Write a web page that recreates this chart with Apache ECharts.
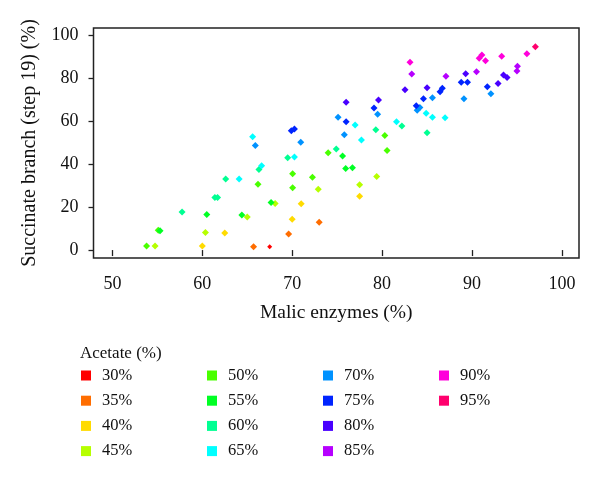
<!DOCTYPE html>
<html>
<head>
<meta charset="utf-8">
<script src="https://cdn.jsdelivr.net/npm/echarts@6/dist/echarts.min.js"></script>
<style>html,body{margin:0;padding:0;background:#fff;}#c{width:600px;height:481px;}</style>
</head>
<body>
<div id="c"></div>
<script>
const levels = ['30%','35%','40%','45%','50%','55%','60%','65%','70%','75%','80%','85%','90%','95%'];
const colors = ['#FF0000','#FF6D00','#FFDB00','#B6FF00','#49FF00','#00FF24','#00FF92','#00FFFF','#0092FF','#0024FF','#4900FF','#B600FF','#FF00DB','#FF006D'];
const xTicks = [50,60,70,80,90,100];
const yTicks = [0,20,40,60,80,100];

const d30 = [[67.5,1.5]];
const d35 = [[65.7,1.5],[69.6,7.45],[73.0,13.0]];
const d40 = [[60.0,1.9],[62.5,7.9],[70.0,14.3],[71.0,21.6],[77.5,25.0]];
const d45 = [[54.75,1.9],[60.35,8.2],[65.0,15.4],[68.1,21.7],[72.9,28.3],[77.5,30.4],[79.4,34.3]];
const d50 = [[53.8,1.9],[55.1,9.2],[66.2,30.7],[70.05,29.0],[70.05,35.5],[72.25,33.9],[74.0,45.3],[80.55,46.4],[80.3,53.4]];
const d55 = [[55.3,9.0],[60.5,16.6],[64.4,16.3],[67.65,22.2],[75.6,43.8],[75.95,38.0],[76.7,38.3]];
const d60 = [[57.75,17.7],[61.4,24.5],[61.7,24.5],[62.6,33.1],[66.3,37.5],[69.5,43.0],[74.9,47.0],[79.3,56.0],[82.2,57.8],[85.0,54.6]];
const d65 = [[64.1,33.1],[65.6,52.8],[66.6,39.3],[70.25,43.3],[77.7,51.2],[77.0,58.2],[81.6,59.8],[84.9,63.7],[85.6,61.8],[87.0,61.6]];
const d70 = [[65.9,48.7],[70.95,50.2],[75.8,53.7],[75.1,61.8],[79.5,63.2],[84.2,66.4],[83.9,65.1],[85.6,70.9],[89.1,70.5],[92.1,72.8]];
const d75 = [[69.9,55.6],[70.25,56.4],[76.0,59.8],[79.1,66.1],[83.8,67.2],[84.6,70.5],[86.45,73.7],[86.7,75.3],[88.8,78.1],[89.5,78.1],[91.7,76.1]];
const d80 = [[76.0,68.8],[79.6,69.9],[82.55,74.7],[85.0,75.6],[89.3,82.1],[92.9,77.6],[93.5,81.5],[93.9,80.4]];
const d85 = [[83.3,82.0],[87.1,80.9],[90.5,83.0],[95.05,85.6],[95.0,83.4]];
const d90 = [[83.1,87.4],[90.8,89.3],[91.1,90.8],[91.5,88.2],[93.3,90.2],[96.1,91.4]];
const d95 = [[97.05,94.7]];
const seriesData = [d30,d35,d40,d45,d50,d55,d60,d65,d70,d75,d80,d85,d90,d95];

const font = 'Liberation Serif';
const series = levels.map((name, i) => ({
  name: name,
  type: 'scatter',
  symbol: 'diamond',
  symbolSize: i === 0 ? 5 : 7,
  itemStyle: { color: colors[i], opacity: 1 },
  data: seriesData[i],
  silent: true
}));

const legendCols = [[0,1,2,3],[4,5,6,7],[8,9,10,11],[12,13]];
const legendLeft = [81, 207, 323, 439];
const legends = legendCols.map((col, k) => ({
  orient: 'vertical',
  left: legendLeft[k],
  top: 367,
  itemGap: 8.2,
  itemWidth: 10,
  itemHeight: 10,
  icon: 'rect',
  padding: 0,
  selectedMode: false,
  textStyle: { fontFamily: font, fontSize: 16.5, color: '#111', padding: [0,0,0,6] },
  data: col.map(i => levels[i])
}));

const chart = echarts.init(document.getElementById('c'), null, { renderer: 'canvas' });
chart.setOption({
  animation: false,
  backgroundColor: '#fff',
  textStyle: { fontFamily: font },
  grid: {
    left: 93.5, top: 28, right: 21, bottom: 223,
    show: true, borderColor: '#222', borderWidth: 1.5, backgroundColor: 'transparent'
  },
  title: {
    text: 'Acetate (%)', left: 80, top: 345, padding: 0,
    textStyle: { fontFamily: font, fontSize: 17, fontWeight: 'normal', color: '#111' }
  },
  legend: legends,
  xAxis: {
    type: 'value', min: 47.9, max: 101.9,
    name: 'Malic enzymes (%)', nameLocation: 'middle', nameGap: 45,
    nameTextStyle: { fontFamily: font, fontSize: 19.5, color: '#111' },
    axisLine: { show: false },
    axisTick: { show: true, inside: false, length: 6, lineStyle: { color: '#222', width: 1.3 }, customValues: xTicks },
    axisLabel: { customValues: xTicks, fontFamily: font, fontSize: 18, color: '#111', margin: 17 },
    splitLine: { show: false }
  },
  yAxis: {
    type: 'value', min: -3.7, max: 103.4,
    name: 'Succinate branch (step 19) (%)', nameLocation: 'middle', nameGap: 54,
    nameTextStyle: { fontFamily: font, fontSize: 20, color: '#111', padding: [0, 0, 0, 0] },
    axisLine: { show: false },
    axisTick: { show: true, inside: false, length: 5, lineStyle: { color: '#222', width: 1.3 }, customValues: yTicks },
    axisLabel: { customValues: yTicks, fontFamily: font, fontSize: 18, color: '#111', margin: 15 },
    splitLine: { show: false }
  },
  series: series
});
</script>
</body>
</html>
